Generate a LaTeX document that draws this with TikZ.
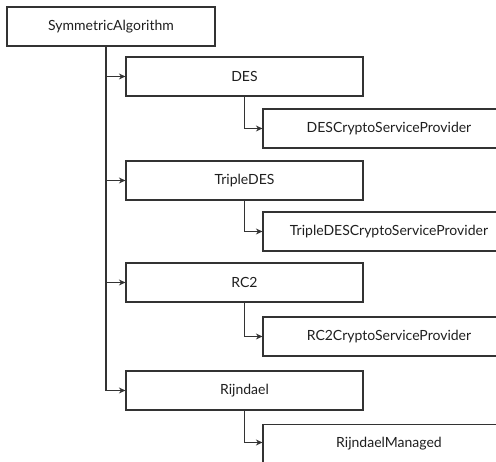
\documentclass[tikz,border=0pt]{standalone}
\usepackage{fontspec}
\setmainfont{Lato}
\usetikzlibrary{arrows.meta}
\newlength{\du}
\setlength{\du}{1pt}
\definecolor{dialinecolor}{rgb}{0.200000, 0.200000, 0.200000}
\tikzset{
  classbox/.style={draw=dialinecolor, line width=1.2\du, fill=white,
    minimum width=237\du, minimum height=39\du, inner sep=0pt,
    font=\fontsize{14}{16}\selectfont, text=black!88},
  implbox/.style={classbox, minimum width=252\du},
  inherit/.style={draw=dialinecolor, line width=1.2\du,
    -{Stealth[length=6.5pt,width=6pt]}}
}
\begin{document}
\begin{tikzpicture}[x=1\du, y=-1\du]
\useasboundingbox (0,0) rectangle (496,462);
\begin{scope}
\clip (0,0) rectangle (496,462);
% base class
\node[classbox, minimum width=208\du] (sym) at (111,26.5){SymmetricAlgorithm};
% abstract algorithms
\node[classbox] (des) at (244.5,76.5){DES};
\node[classbox] (tdes) at (244.5,180.5){TripleDES};
\node[classbox] (rctwo) at (244.5,282.5){RC2};
\node[classbox] (rij) at (244.5,390.5){Rijndael};
% implementations (cut off at the right edge)
\node[implbox] (descsp) at (389,128.5){DESCryptoServiceProvider};
\node[implbox] (tdescsp) at (389,231.5){TripleDESCryptoServiceProvider};
\node[implbox] (rctwocsp) at (389,336.5){RC2CryptoServiceProvider};
\node[implbox] (rijman) at (389,444){RijndaelManaged};
% trunk
\coordinate (trunk) at ([xshift=-5pt]sym.south);
\draw[inherit] (trunk) |- (des.west);
\draw[inherit] (trunk) |- (tdes.west);
\draw[inherit] (trunk) |- (rctwo.west);
\draw[inherit] (trunk) |- (rij.west);
% branches
\draw[inherit] (des.south) |- (descsp.west);
\draw[inherit] (tdes.south) |- (tdescsp.west);
\draw[inherit] (rctwo.south) |- (rctwocsp.west);
\draw[inherit] (rij.south) |- ([yshift=1.5pt]rijman.west);
\end{scope}
\end{tikzpicture}
\end{document}
